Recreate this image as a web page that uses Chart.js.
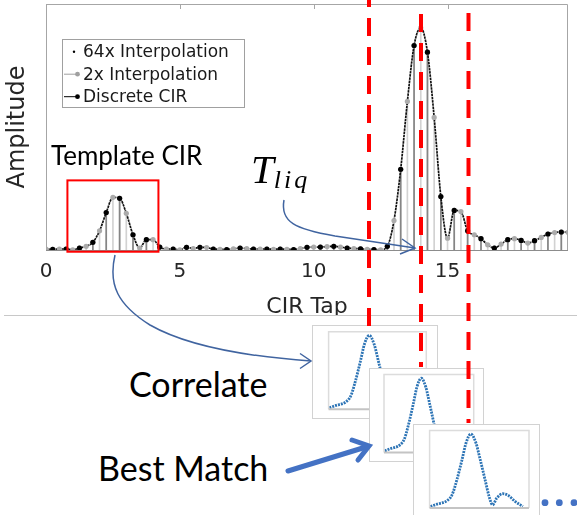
<!DOCTYPE html>
<html>
<head>
<meta charset="utf-8">
<script src="https://cdn.jsdelivr.net/npm/chart.js@4.4.1/dist/chart.umd.min.js"></script>
<style>
  html, body { margin: 0; padding: 0; background: #fff; }
  #stage { position: relative; width: 577px; height: 515px; overflow: hidden; background: #fff; }
  #main { position: absolute; left: 0; top: 0; }
  .sep { position: absolute; left: 4px; right: 0; top: 315px; border-top: 1px solid #c8c8c8; }
  .panel { position: absolute; background: #fff; border: 1px solid #d2d2d2; box-sizing: border-box; }
  .panel canvas { position: absolute; left: 0; top: 0; }
  .label { position: absolute; white-space: nowrap; color: #000; line-height: 1; font-family: Lato, sans-serif; }
  .math { font-family: 'Liberation Serif', serif; font-style: italic; }
  svg { position: absolute; left: 0; top: 0; }
</style>
</head>
<body>
<div id="stage">
  <canvas id="main" width="577" height="316"></canvas>
  <div class="sep"></div>
  <div class="panel" id="p1"><canvas></canvas></div>
  <div class="panel" id="p2"><canvas></canvas></div>
  <div class="panel" id="p3"><canvas></canvas></div>

  <div class="label" style="left:51px; top:142px; font-size:26px;">Template CIR</div>
  <div class="label math" style="left:251px; top:149px; font-size:41px;">T<span style="font-size:26px; position:relative; top:5px; letter-spacing:3px;">liq</span></div>
  <div class="label" style="left:129px; top:367px; font-size:34px;">Correlate</div>
  <div class="label" style="left:98px; top:451px; font-size:34px;">Best Match</div>

  <svg width="577" height="515" viewBox="0 0 577 515">
    <g fill="none" stroke="#ff0000" stroke-width="4" stroke-dasharray="18 11">
      <line x1="369" y1="-11" x2="369" y2="328"/>
      <line x1="421" y1="14" x2="421" y2="367"/>
      <line x1="468.5" y1="13" x2="468.5" y2="423"/>
    </g>
    <g fill="none" stroke="#4064a0" stroke-width="1.5">
      <path d="M115,255 C108,285 118,305 150,325 C185,345 240,356 311,361"/>
      <polyline points="300,353.5 311,361 300,368.5"/>
      <path d="M284,200 C280,222 295,229 335,236 C370,241 395,245 415,248"/>
      <polyline points="402,239 415,248 400,254"/>
    </g>
    <g fill="none" stroke="#4472c4" stroke-width="5" stroke-linecap="round">
      <line x1="288" y1="471" x2="366" y2="447"/>
      <polyline points="352,440 369,446 358,460"/>
    </g>
    <g fill="#4472c4">
      <circle cx="545" cy="502.7" r="3.4"/>
      <circle cx="559.3" cy="502.7" r="3.4"/>
      <circle cx="574" cy="502.7" r="3.4"/>
    </g>
  </svg>
</div>

<script>
// discrete CIR taps (black markers) and amplitudes
const discreteTaps = [0.25, 0.75, 1.25, 1.75, 2.25, 2.75, 3.25, 3.75, 4.25, 4.75,
  5.25, 5.75, 6.25, 6.75, 7.25, 7.75, 8.25, 8.75, 9.25, 9.75,
  10.25, 10.75, 11.25, 11.75, 12.25, 12.75, 13.25, 13.75, 14.25, 14.75,
  15.25, 15.75, 16.25, 16.75, 17.25, 17.75, 18.25, 18.75, 19.25];
const discreteAmp = [0.003, 0.004, 0.008, 0.031, 0.152, 0.210, 0.062, 0.042, 0.012, 0.004,
  0.011, 0.011, 0.004, 0.002, 0.008, 0.004, 0.004, 0.004, 0.002, 0.011,
  0.012, 0.015, 0.008, 0.005, 0.002, 0.015, 0.328, 0.831, 0.804, 0.217,
  0.161, 0.078, 0.046, 0.008, 0.042, 0.039, 0.038, 0.065, 0.073];

// extra taps added by 2x interpolation (grey markers)
const halfTaps = [0, 0.5, 1, 1.5, 2, 2.5, 3, 3.5, 4, 4.5,
  5, 5.5, 6, 6.5, 7, 7.5, 8, 8.5, 9, 9.5,
  10, 10.5, 11, 11.5, 12, 12.5, 13, 13.5, 14, 14.5,
  15, 15.5, 16, 16.5, 17, 17.5, 18, 18.5, 19, 19.5];
const halfAmp = [0.004, 0.004, 0.001, 0.015, 0.078, 0.214, 0.149, 0.008, 0.042, 0.004,
  0.001, 0.006, 0.010, 0.003, 0.005, 0.006, 0.004, 0.003, 0.003, 0.006,
  0.012, 0.014, 0.012, 0.006, 0.003, 0.001, 0.120, 0.604, 0.903, 0.539,
  0.048, 0.156, 0.062, 0.021, 0.024, 0.046, 0.028, 0.051, 0.071, 0.072];

const tickValues = [0, 5, 10, 15];
const templateWindow = [0.8, 4.2];
const templateRange = [-0.007, 0.283];

// template shape shown in the correlation panels
const templateX = [0, 0.25, 0.62, 0.81, 0.99, 1.18, 1.33, 1.51, 1.70, 1.86, 2.04, 2.19, 2.32, 2.48, 2.70, 2.91, 3.16, 3.45];
const templateY = [0.02, 0.05, 0.094, 0.171, 0.365, 0.622, 0.838, 0.954, 0.838, 0.622, 0.365, 0.15, 0.039, 0.129, 0.184, 0.162, 0.085, 0.02];

const pts = (xs, ys) => xs.map((x, i) => ({ x, y: ys[i] }));
const discretePts = pts(discreteTaps, discreteAmp);
const interpPts = pts(discreteTaps, discreteAmp).concat(pts(halfTaps, halfAmp)).sort((a, b) => a.x - b.x);

const axisFont = 'DejaVu Sans';
const textColor = '#262626';

const frame = {
  id: 'frame',
  afterDatasetsDraw(chart) {
    const { ctx, chartArea: a, scales: { x, y } } = chart;
    ctx.save();
    ctx.lineWidth = 1;
    ctx.strokeStyle = '#a6a6a6';
    ctx.beginPath();
    ctx.moveTo(a.left + 0.5, a.bottom);
    ctx.lineTo(a.left + 0.5, a.top + 0.5);
    ctx.lineTo(a.right - 0.5, a.top + 0.5);
    ctx.lineTo(a.right - 0.5, a.bottom);
    tickValues.forEach((v) => {
      const px = Math.round(x.getPixelForValue(v)) + 0.5;
      ctx.moveTo(px, a.top);
      ctx.lineTo(px, a.top + 5);
    });
    ctx.stroke();
    ctx.strokeStyle = '#8c8c8c';
    ctx.beginPath();
    ctx.moveTo(a.left, a.bottom + 0.5);
    ctx.lineTo(a.right, a.bottom + 0.5);
    ctx.stroke();

    // template selection box
    const x0 = x.getPixelForValue(templateWindow[0]);
    const x1 = x.getPixelForValue(templateWindow[1]);
    const y0 = y.getPixelForValue(templateRange[1]);
    const y1 = y.getPixelForValue(templateRange[0]);
    ctx.strokeStyle = '#ff0000';
    ctx.lineWidth = 2;
    ctx.strokeRect(x0, y0, x1 - x0, y1 - y0);
    ctx.restore();
  }
};

const legendBox = {
  id: 'legendBox',
  afterDatasetsDraw(chart) {
    const { ctx, chartArea: a } = chart;
    const left = a.left + 16, top = a.top + 35, w = 182, h = 68;
    ctx.save();
    ctx.fillStyle = '#fff';
    ctx.fillRect(left, top, w, h);
    ctx.strokeStyle = '#a0a0a0';
    ctx.lineWidth = 1;
    ctx.strokeRect(left + 0.5, top + 0.5, w, h);
    ctx.font = '17px "' + axisFont + '"';
    ctx.textBaseline = 'middle';
    chart.data.datasets
      .filter((d) => d.legendRow !== undefined)
      .sort((p, q) => p.legendRow - q.legendRow)
      .forEach((d) => {
        const cy = top + 12.7 + d.legendRow * 22.5;
        if (d.legendLine) {
          ctx.strokeStyle = d.legendColor;
          ctx.beginPath();
          ctx.moveTo(left + 2, cy);
          ctx.lineTo(left + 15, cy);
          ctx.stroke();
        }
        ctx.fillStyle = d.legendColor;
        ctx.beginPath();
        ctx.arc(left + (d.legendLine ? 15.5 : 12), cy, d.legendDot, 0, Math.PI * 2);
        ctx.fill();
        ctx.fillStyle = '#1a1a1a';
        ctx.fillText(d.label, left + 21, cy + 1);
      });
    ctx.restore();
  }
};

new Chart(document.getElementById('main'), {
  type: 'scatter',
  data: {
    datasets: [
      { type: 'scatter', label: 'Discrete CIR', data: discretePts, pointRadius: 2.6, pointBackgroundColor: '#000', pointBorderWidth: 0, order: 0,
        legendRow: 2, legendLine: true, legendColor: '#000', legendDot: 2.4 },
      { type: 'scatter', label: '2x Interpolation', data: interpPts, pointRadius: 2.6, pointBackgroundColor: '#ababab', pointBorderWidth: 0, order: 1,
        legendRow: 1, legendLine: true, legendColor: '#a0a0a0', legendDot: 2.4 },
      { type: 'line', label: '64x Interpolation', data: interpPts, borderColor: '#111', borderWidth: 1.7, borderDash: [2.5, 0.7],
        cubicInterpolationMode: 'monotone', pointRadius: 0, order: 2,
        legendRow: 0, legendLine: false, legendColor: '#000', legendDot: 1.2 },
      { type: 'bar', label: 'discrete stems', data: discretePts, backgroundColor: '#858585', barThickness: 1, grouped: false, order: 3 },
      { type: 'bar', label: '2x stems', data: interpPts, backgroundColor: '#d2d2d2', barThickness: 1, grouped: false, order: 4 }
    ]
  },
  options: {
    responsive: false,
    animation: false,
    events: [],
    layout: { padding: { left: 0, right: 9, top: 4, bottom: 2.1 } },
    plugins: { legend: { display: false }, tooltip: { enabled: false } },
    scales: {
      x: {
        type: 'linear', min: 0, max: 19.5, offset: false,
        afterBuildTicks: (scale) => { scale.ticks = tickValues.map((v) => ({ value: v })); },
        ticks: { font: { family: axisFont, size: 20 }, color: textColor, padding: 10, maxRotation: 0, autoSkip: false },
        grid: { display: false, drawTicks: false, offset: false },
        border: { display: false },
        title: { display: true, text: 'CIR Tap', font: { family: axisFont, size: 22 }, color: textColor, padding: { top: 0, bottom: -6.5 } }
      },
      y: {
        min: 0, max: 1,
        ticks: { display: false },
        grid: { display: false, drawTicks: false },
        border: { display: false },
        title: { display: true, text: 'Amplitude', font: { family: axisFont, size: 24 }, color: textColor, padding: { top: 3, bottom: 14.2 } }
      }
    }
  },
  plugins: [frame, legendBox]
});

// correlation panels: same template at three shifts
const panelFrame = {
  id: 'panelFrame',
  afterDatasetsDraw(chart) {
    const { ctx, chartArea: a } = chart;
    ctx.save();
    ctx.lineWidth = 1.5;
    ctx.strokeStyle = '#dcdcdc';
    ctx.beginPath();
    ctx.moveTo(a.left, a.bottom);
    ctx.lineTo(a.left, a.top);
    ctx.lineTo(a.right, a.top);
    ctx.lineTo(a.right, a.bottom);
    ctx.stroke();
    ctx.strokeStyle = '#c4c4c4';
    ctx.lineWidth = 2;
    ctx.beginPath();
    ctx.moveTo(a.left, a.bottom);
    ctx.lineTo(a.right, a.bottom);
    ctx.stroke();
    ctx.restore();
  }
};

const panels = [
  { id: 'p1', left: 311.7, top: 325, width: 126, height: 94, pad: { left: 15.6, top: 5.7, right: 10.7, bottom: 8.7 } },
  { id: 'p2', left: 369.3, top: 367.7, width: 115, height: 94.6, pad: { left: 14, top: 5.6, right: 9.3, bottom: 9.6 } },
  { id: 'p3', left: 412.7, top: 424.3, width: 127.3, height: 100, pad: { left: 15.6, top: 5.4, right: 10, bottom: 15 } }
];

panels.forEach((p) => {
  const box = document.getElementById(p.id);
  box.style.left = p.left + 'px';
  box.style.top = p.top + 'px';
  box.style.width = p.width + 'px';
  box.style.height = p.height + 'px';
  const cv = box.querySelector('canvas');
  cv.width = Math.round(p.width - 2);
  cv.height = Math.round(p.height - 2);
  new Chart(cv, {
    type: 'line',
    data: {
      datasets: [{
        data: pts(templateX, templateY), borderColor: '#2e75b6', borderWidth: 2.8, borderDash: [2, 1],
        cubicInterpolationMode: 'monotone', pointRadius: 0
      }]
    },
    options: {
      responsive: false,
      animation: false,
      events: [],
      layout: { padding: p.pad },
      plugins: { legend: { display: false }, tooltip: { enabled: false } },
      scales: {
        x: { type: 'linear', min: -0.03, max: 3.68, display: false },
        y: { min: 0, max: 1, display: false }
      }
    },
    plugins: [panelFrame]
  });
});
</script>
</body>
</html>
